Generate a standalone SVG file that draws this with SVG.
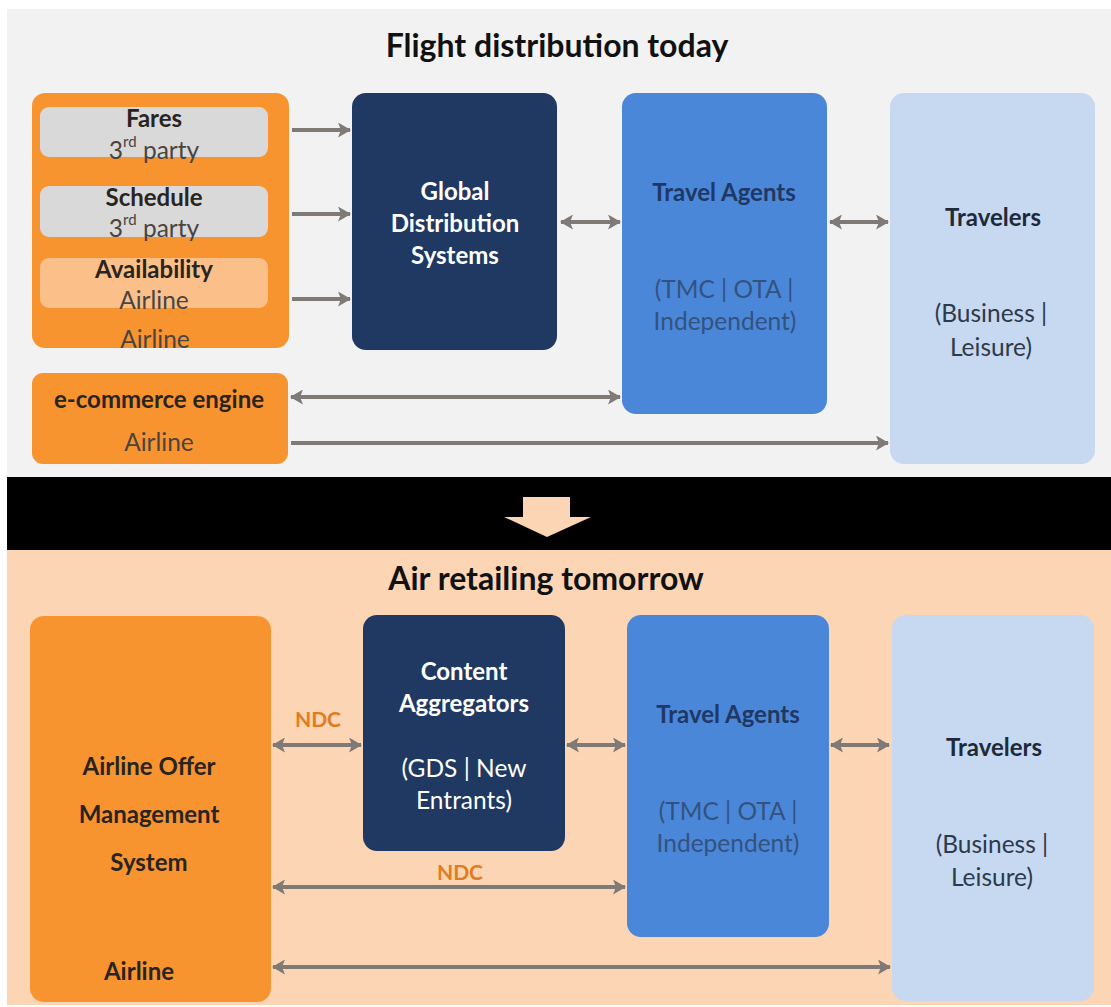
<svg xmlns="http://www.w3.org/2000/svg" width="1111" height="1007" viewBox="0 0 1111 1007">
  <style>
    text { font-family: Lato, "Open Sans", "Liberation Sans", sans-serif; text-anchor: middle; dominant-baseline: central; }
    .title { font-size: 32px; font-weight: bold; fill: #111111; }
    .b { font-size: 24px; font-weight: bold; }
    .r { font-size: 24.5px; }
    .dark { fill: #2a2420; }
    .sub { fill: #4a4440; }
    .white { fill: #ffffff; }
    .navy { fill: #1f3864; }
    .navysub { fill: #34527f; }
    .trav { fill: #1e2a3a; }
    .travsub { fill: #2e3a4a; }
    .ndc { font-size: 21px; font-weight: bold; fill: #e27c22; }
    .orange { fill: #f8942f; }
    .lgrey { fill: #d9d9d9; }
    .lorange { fill: #fbbf8a; }
    .gds { fill: #1f3962; }
    .agent { fill: #4a87d8; }
    .traveler { fill: #c6d9f1; }
    .conn line { stroke: #7f7a76; stroke-width: 4; }
  </style>
  <defs>
    <marker id="head" viewBox="0 0 13 15" refX="12" refY="7.5" markerWidth="13" markerHeight="15" markerUnits="userSpaceOnUse" orient="auto-start-reverse">
      <path d="M0,0 L13,7.5 L0,15 L3,7.5 Z" fill="#7f7a76"/>
    </marker>
  </defs>

  <!-- page backgrounds -->
  <rect x="0" y="0" width="1111" height="1007" fill="#ffffff"/>
  <rect x="7" y="9" width="1104" height="469" fill="#f2f2f2"/>
  <rect x="7" y="477" width="1104" height="73" fill="#000000"/>
  <rect x="7" y="550" width="1104" height="455" fill="#fcd5b4"/>

  <!-- transition arrow -->
  <path d="M523,497 L570,497 L570,517 L591,517 L547,537 L504,517 L523,517 Z" fill="#fcd5b4"/>

  <text class="title" x="557" y="44">Flight distribution today</text>
  <text class="title" x="546" y="577">Air retailing tomorrow</text>

  <!-- today: airline data sources -->
  <g id="airline-data">
    <rect class="orange" x="32" y="93" width="257" height="255" rx="13"/>
    <text class="r sub" x="155" y="338">Airline</text>
  </g>
  <g id="fares">
    <rect class="lgrey" x="40" y="107" width="228" height="50" rx="9"/>
    <text class="b dark" x="154" y="117">Fares</text>
    <text class="r sub" x="154" y="149">3<tspan font-size="15" dy="-8">rd</tspan><tspan dy="8"> party</tspan></text>
  </g>
  <g id="schedule">
    <rect class="lgrey" x="40" y="186" width="228" height="51" rx="9"/>
    <text class="b dark" x="154" y="196">Schedule</text>
    <text class="r sub" x="154" y="227">3<tspan font-size="15" dy="-8">rd</tspan><tspan dy="8"> party</tspan></text>
  </g>
  <g id="availability">
    <rect class="lorange" x="40" y="258" width="228" height="50" rx="9"/>
    <text class="b dark" x="154" y="268">Availability</text>
    <text class="r sub" x="154" y="299">Airline</text>
  </g>
  <g id="ecommerce">
    <rect class="orange" x="32" y="373" width="256" height="91" rx="11"/>
    <text class="b dark" x="159" y="398">e-commerce engine</text>
    <text class="r sub" x="159" y="441">Airline</text>
  </g>
  <g id="gds">
    <rect class="gds" x="352" y="93" width="205" height="257" rx="14"/>
    <text class="b white" x="455" y="190">Global</text>
    <text class="b white" x="455" y="222">Distribution</text>
    <text class="b white" x="455" y="254">Systems</text>
  </g>
  <g id="agents-today">
    <rect class="agent" x="622" y="93" width="205" height="321" rx="14"/>
    <text class="b navy" x="724" y="191">Travel Agents</text>
    <text class="r navysub" x="724" y="288">(TMC | OTA |</text>
    <text class="r navysub" x="725" y="320">Independent)</text>
  </g>
  <g id="travelers-today">
    <rect class="traveler" x="890" y="93" width="205" height="371" rx="14"/>
    <text class="b trav" x="993" y="216">Travelers</text>
    <text class="r travsub" x="991" y="312">(Business |</text>
    <text class="r travsub" x="991" y="346">Leisure)</text>
  </g>

  <!-- tomorrow -->
  <g id="offer-management">
    <rect class="orange" x="30" y="616" width="241" height="386" rx="14"/>
    <text class="b dark" x="149" y="765">Airline Offer</text>
    <text class="b dark" x="149" y="813">Management</text>
    <text class="b dark" x="149" y="861">System</text>
    <text class="b dark" x="139" y="970">Airline</text>
  </g>
  <g id="aggregators">
    <rect class="gds" x="363" y="615" width="202" height="236" rx="14"/>
    <text class="b white" x="464" y="670">Content</text>
    <text class="b white" x="464" y="702">Aggregators</text>
    <text class="r white" x="464" y="767">(GDS | New</text>
    <text class="r white" x="464" y="799">Entrants)</text>
  </g>
  <g id="agents-tomorrow">
    <rect class="agent" x="627" y="615" width="202" height="322" rx="14"/>
    <text class="b navy" x="728" y="713">Travel Agents</text>
    <text class="r navysub" x="728" y="810">(TMC | OTA |</text>
    <text class="r navysub" x="728" y="842">Independent)</text>
  </g>
  <g id="travelers-tomorrow">
    <rect class="traveler" x="892" y="615" width="202" height="386" rx="14"/>
    <text class="b trav" x="994" y="746">Travelers</text>
    <text class="r travsub" x="992" y="843">(Business |</text>
    <text class="r travsub" x="992" y="876">Leisure)</text>
  </g>

  <!-- connectors -->
  <g id="connectors" class="conn">
    <line x1="292" y1="130" x2="350" y2="130" marker-end="url(#head)"/>
    <line x1="292" y1="214" x2="350" y2="214" marker-end="url(#head)"/>
    <line x1="292" y1="299" x2="350" y2="299" marker-end="url(#head)"/>
    <line x1="561" y1="222" x2="620" y2="222" marker-start="url(#head)" marker-end="url(#head)"/>
    <line x1="830" y1="222" x2="888" y2="222" marker-start="url(#head)" marker-end="url(#head)"/>
    <line x1="291" y1="397" x2="620" y2="397" marker-start="url(#head)" marker-end="url(#head)"/>
    <line x1="291" y1="443" x2="888" y2="443" marker-end="url(#head)"/>

    <line x1="273" y1="745" x2="361" y2="745" marker-start="url(#head)" marker-end="url(#head)"/>
    <line x1="567" y1="745" x2="625" y2="745" marker-start="url(#head)" marker-end="url(#head)"/>
    <line x1="831" y1="745" x2="889" y2="745" marker-start="url(#head)" marker-end="url(#head)"/>
    <line x1="273" y1="887" x2="625" y2="887" marker-start="url(#head)" marker-end="url(#head)"/>
    <line x1="273" y1="967" x2="890" y2="967" marker-start="url(#head)" marker-end="url(#head)"/>
  </g>
  <text class="ndc" x="318" y="718">NDC</text>
  <text class="ndc" x="460" y="871">NDC</text>
</svg>
